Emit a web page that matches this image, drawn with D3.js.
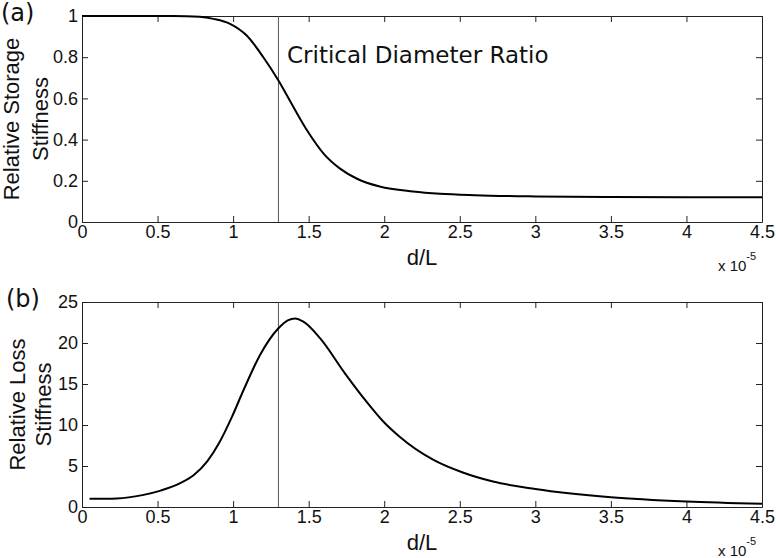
<!DOCTYPE html>
<html>
<head>
<meta charset="utf-8">
<script src="https://cdn.jsdelivr.net/npm/d3@7"></script>
<style>
  body { margin: 0; background: #fff; }
  .tick text { font-family: "Liberation Sans", Arial, sans-serif; font-size: 18px; fill: #111; }
  .lbl { font-family: "Liberation Sans", Arial, sans-serif; font-size: 22px; fill: #111; }
  .tag { font-family: "DejaVu Sans", sans-serif; fill: #111; }
</style>
</head>
<body>
<div id="chart"></div>
<script>
// values (d/L in units of 1e-5)
const xTicks = [0, 0.5, 1, 1.5, 2, 2.5, 3, 3.5, 4, 4.5];
const storageTicks = [0, 0.2, 0.4, 0.6, 0.8, 1];
const lossTicks = [0, 5, 10, 15, 20, 25];
const criticalRatio = 1.3;

const storageX = [0, 0.3, 0.6, 0.78, 0.87, 0.98, 1.09, 1.2, 1.3, 1.4, 1.49, 1.6, 1.71, 1.82, 1.97, 2.19, 2.37, 2.6, 3.0, 3.5, 4.0, 4.5];
const storageY = [1.0, 1.0, 1.0, 0.996, 0.986, 0.962, 0.905, 0.80, 0.687, 0.557, 0.444, 0.331, 0.258, 0.21, 0.172, 0.148, 0.137, 0.13, 0.124, 0.121, 0.12, 0.12];

const lossX = [0.05, 0.23, 0.4, 0.52, 0.65, 0.74, 0.83, 0.91, 0.99, 1.07, 1.18, 1.3, 1.365, 1.41, 1.465, 1.575, 1.74, 1.88, 2.0, 2.1, 2.32, 2.52, 2.72, 3.0, 3.5, 4.0, 4.5];
const lossY = [1.0, 1.05, 1.45, 2.0, 2.9, 3.9, 5.6, 7.9, 10.9, 14.3, 18.6, 21.8, 22.8, 23.0, 22.6, 20.6, 16.3, 12.9, 10.3, 8.6, 5.8, 4.2, 3.1, 2.2, 1.2, 0.68, 0.4];

const W = 776, H = 558;
const left = 82, right = 762;

const svg = d3.select("#chart").append("svg")
  .attr("width", W)
  .attr("height", H);

function panel(top, bottom, yTicks, yMax, xs, ys, tag, tagX, labelLines, labelX) {
  const x = d3.scaleLinear().domain([0, 4.5]).range([left, right]);
  const y = d3.scaleLinear().domain([0, yMax]).range([bottom, top]);

  const g = svg.append("g");

  // bottom axis with labels, inward ticks
  g.append("g")
    .attr("transform", `translate(0,${bottom})`)
    .call(d3.axisBottom(x).tickValues(xTicks).tickSizeInner(-6).tickSizeOuter(0)
      .tickPadding(3).tickFormat(d => String(d)));

  g.append("g")
    .attr("transform", `translate(0,${top})`)
    .call(d3.axisTop(x).tickValues(xTicks).tickSizeInner(-6).tickSizeOuter(0).tickFormat(""));

  g.append("g")
    .attr("transform", `translate(${left},0)`)
    .call(d3.axisLeft(y).tickValues(yTicks).tickSizeInner(-6).tickSizeOuter(0)
      .tickPadding(4).tickFormat(d => String(d)));

  g.append("g")
    .attr("transform", `translate(${right},0)`)
    .call(d3.axisRight(y).tickValues(yTicks).tickSizeInner(-6).tickSizeOuter(0).tickFormat(""));

  g.selectAll(".domain, .tick line").attr("stroke", "#222").attr("stroke-width", 1);

  // critical ratio marker
  g.append("line")
    .attr("x1", x(criticalRatio)).attr("x2", x(criticalRatio))
    .attr("y1", top).attr("y2", bottom)
    .attr("stroke", "#555").attr("stroke-width", 1);

  const pts = xs.map((v, i) => [v, ys[i]]);
  g.append("path")
    .datum(pts)
    .attr("fill", "none")
    .attr("stroke", "#000")
    .attr("stroke-width", 2)
    .attr("d", d3.line().x(d => x(d[0])).y(d => y(d[1])).curve(d3.curveMonotoneX));

  // x label and exponent
  g.append("text").attr("class", "lbl")
    .attr("x", (left + right) / 2).attr("y", bottom + 43)
    .attr("text-anchor", "middle").text("d/L");

  const ex = g.append("text")
    .attr("x", 718).attr("y", bottom + 48.5)
    .style("font-family", "Liberation Sans, Arial, sans-serif")
    .style("font-size", "15px").attr("fill", "#111");
  ex.append("tspan").text("x 10");
  ex.append("tspan").attr("dy", -11).style("font-size", "11px").text("-5");

  // y label (two lines, rotated)
  const cy = (top + bottom) / 2;
  labelLines.forEach((t, i) => {
    g.append("text").attr("class", "lbl")
      .attr("transform", `translate(${labelX[i]},${cy}) rotate(-90)`)
      .attr("text-anchor", "middle").text(t);
  });

  g.append("text").attr("class", "tag")
    .attr("x", tagX).attr("y", top + 5)
    .style("font-size", "24px").text(tag);

  return { x, y, g };
}

const a = panel(16, 222, storageTicks, 1, storageX, storageY, "(a)", 1, ["Relative Storage", "Stiffness"], [19, 47.5]);
panel(302, 507, lossTicks, 25, lossX, lossY, "(b)", 6, ["Relative Loss", "Stiffness"], [25, 50.5]);

a.g.append("text").attr("class", "tag")
  .attr("x", 287).attr("y", 63)
  .style("font-size", "23px").text("Critical Diameter Ratio");
</script>
</body>
</html>
